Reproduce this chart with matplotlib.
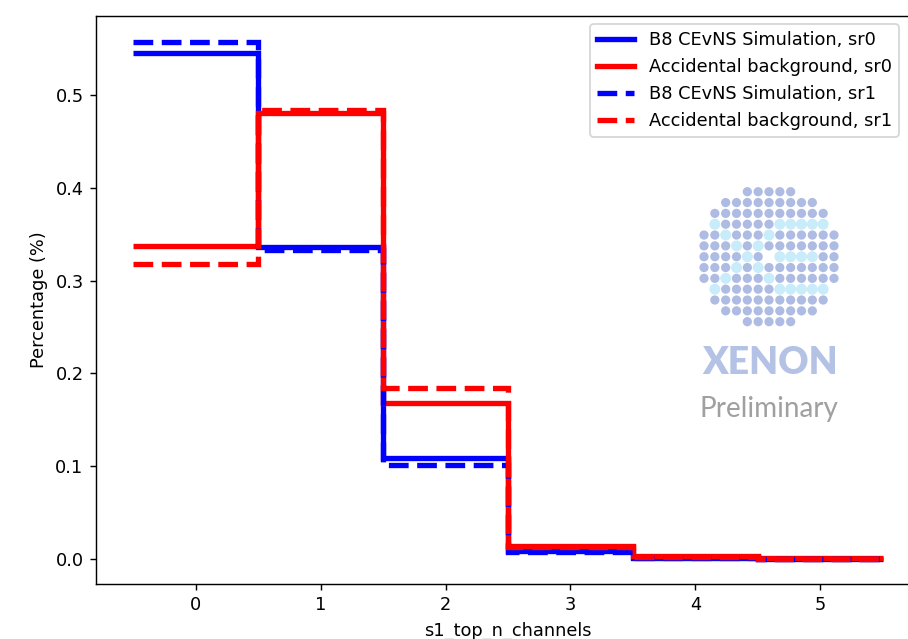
import numpy as np
import matplotlib
matplotlib.use("Agg")
import matplotlib.pyplot as plt

# -----------------------------
# Data (fractions per bin)
# -----------------------------
bin_edges = [-0.5, 0.5, 1.5, 2.5, 3.5, 4.5, 5.5]
b8_sr0 = [0.545, 0.336, 0.109, 0.009, 0.001, 0.0]
acc_sr0 = [0.337, 0.480, 0.168, 0.0135, 0.0035, 0.0005]
b8_sr1 = [0.557, 0.333, 0.101, 0.008, 0.001, 0.0]
acc_sr1 = [0.318, 0.484, 0.184, 0.013, 0.002, 0.0003]

xticks = [0, 1, 2, 3, 4, 5]
yticks = [0.0, 0.1, 0.2, 0.3, 0.4, 0.5]

# -----------------------------
# Figure
# -----------------------------
fig = plt.figure(figsize=(908 / 128, 639 / 128), dpi=128)
# the original plot is cropped on the right: the axes run past the image edge
ax = fig.add_axes([96 / 908, 55 / 639, 824 / 908, 568 / 639])

ax.stairs(b8_sr0, bin_edges, baseline=None, color="blue", lw=3,
          label="B8 CEvNS Simulation, sr0")
ax.stairs(acc_sr0, bin_edges, baseline=None, color="red", lw=3,
          label="Accidental background, sr0")
ax.stairs(b8_sr1, bin_edges, baseline=None, color="blue", lw=3, ls="--",
          label="B8 CEvNS Simulation, sr1")
ax.stairs(acc_sr1, bin_edges, baseline=None, color="red", lw=3, ls="--",
          label="Accidental background, sr1")

ax.set_xlim(-0.8, 5.8)
ax.set_ylim(-0.027, 0.585)
ax.set_xticks(xticks)
ax.set_yticks(yticks)
ax.set_xlabel("s1_top_n_channels")
ax.set_ylabel("Percentage (%)")
ax.spines["right"].set_visible(False)
ax.legend(loc="upper left", handlelength=2.1, borderaxespad=0,
          bbox_to_anchor=((590 - 96) / 824, (584 - 24) / 568))

# -----------------------------
# XENON Preliminary watermark
# -----------------------------
logo = fig.add_axes([698.6 / 908, 1 - 327.1 / 639, 140.8 / 908, 140.8 / 639])
logo.set_xlim(-0.5, 12.5)
logo.set_ylim(12.5, -0.5)
logo.axis("off")

light = {(3, 1), (4, 2), (5, 3), (6, 4), (7, 5), (8, 6),
         (4, 6), (5, 5), (7, 3), (8, 2), (9, 1),
         (3, 7), (3, 8), (3, 9), (3, 10), (3, 11),
         (6, 7), (6, 8), (6, 9), (6, 10),
         (9, 7), (9, 8), (9, 9), (9, 10), (9, 11)}
dark_x, dark_y, lite_x, lite_y = [], [], [], []
for r in range(13):
    for c in range(13):
        if np.hypot(r - 6, c - 6) > 6.45 or (r, c) == (6, 6):
            continue
        if (r, c) in light:
            lite_x.append(c)
            lite_y.append(r)
        else:
            dark_x.append(c)
            dark_y.append(r)
logo.scatter(dark_x, dark_y, s=27, color="#aebbe3", edgecolors="none")
logo.scatter(lite_x, lite_y, s=38, color="#c8ecfa", edgecolors="none")

fig.text(770 / 908, 1 - 363 / 639, "XENON", ha="center", va="center",
         fontsize=21, fontweight="heavy", family="Lato", color="#b4c2e6")
fig.text(769 / 908, 1 - 409 / 639, "Preliminary", ha="center", va="center",
         fontsize=15.7, family="Lato", color="#a0a0a0")

plt.savefig("out.png", dpi=128)
